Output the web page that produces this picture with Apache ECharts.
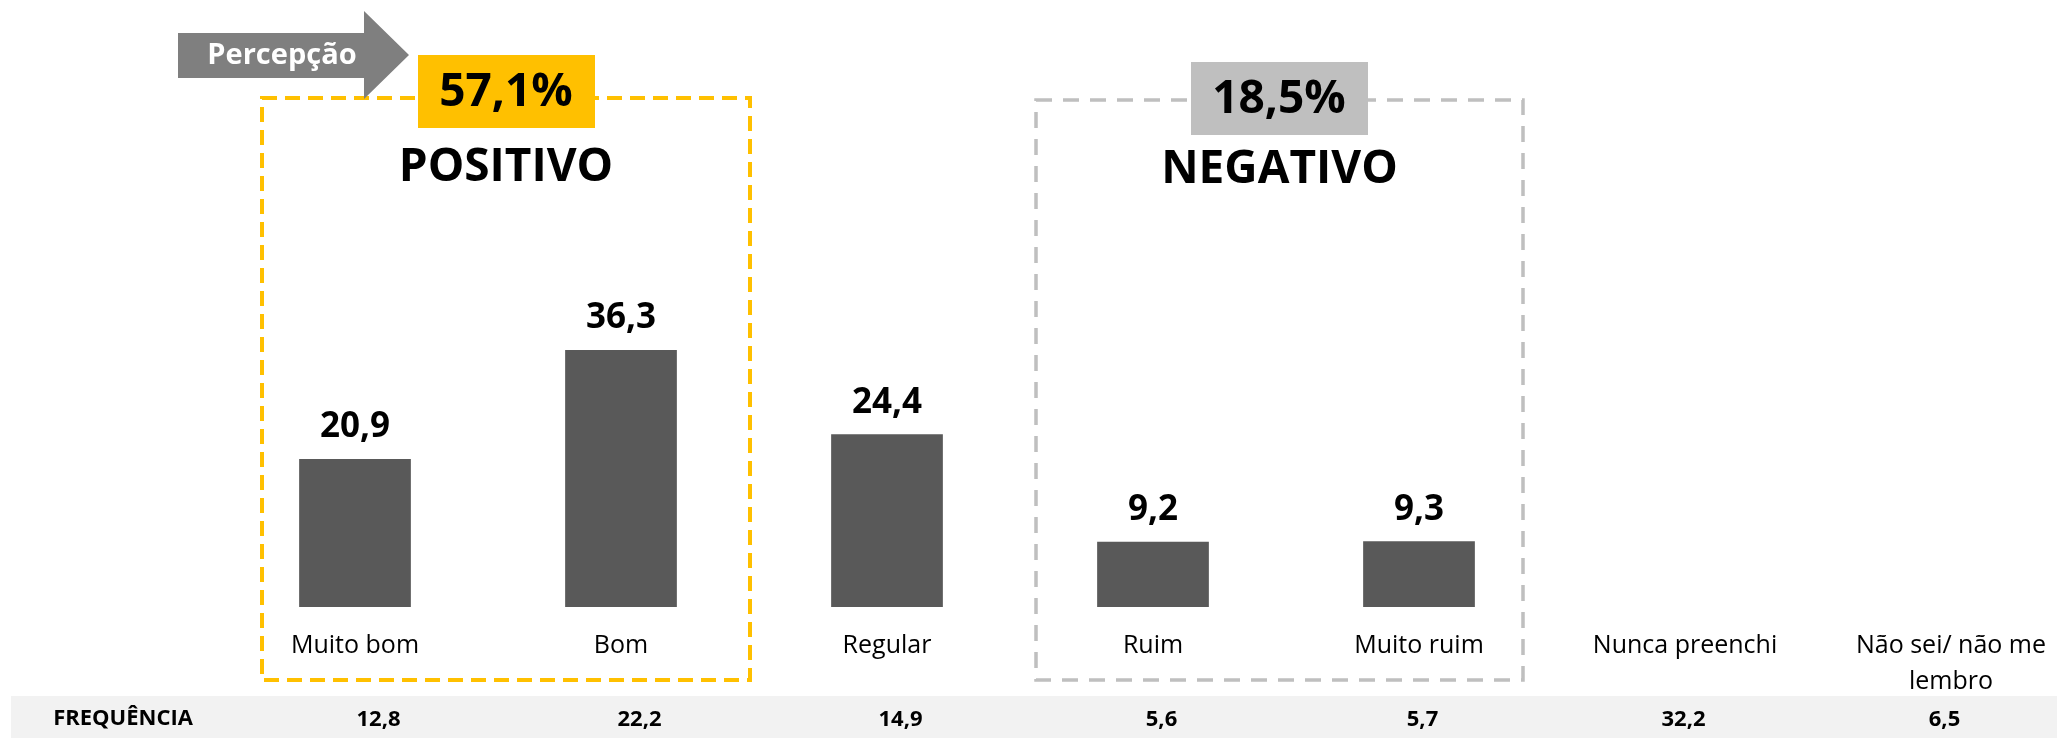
<!DOCTYPE html>
<html>
<head>
<meta charset="utf-8">
<script src="https://cdn.jsdelivr.net/npm/echarts@6/dist/echarts.min.js"></script>
<style>
  html, body { margin: 0; padding: 0; background: #fff; }
  #ec { width: 2057px; height: 738px; }
</style>
</head>
<body>
<div id="ec"></div>
<script>
// 类别
var categories = ['Muito bom', 'Bom', 'Regular', 'Ruim', 'Muito ruim', 'Nunca preenchi', 'Não sei/ não me\nlembro'];
// 百分比 (Nunca preenchi / Não sei 没有柱子)
var percents = [20.9, 36.3, 24.4, 9.2, 9.3, null, null];
// 频率行
var freqLabel = 'FREQUÊNCIA';
var freqValues = ['12,8', '22,2', '14,9', '5,6', '5,7', '32,2', '6,5'];
// 分组
var groupNames = ['POSITIVO', 'NEGATIVO'];
var groupTotals = ['57,1%', '18,5%'];
var arrowText = 'Percepção';

var FONT = '"Open Sans", "DejaVu Sans", sans-serif';

var ec = echarts.init(document.getElementById('ec'));

function fmt(v) {
  return v.toFixed(1).replace('.', ',');
}

// 虚线框 + 标题
function groupBox(x1, y1, x2, y2, color, lw, dash, boxX, boxY, total, name, nameY) {
  return [
    {
      type: 'rect',
      shape: { x: x1, y: y1, width: x2 - x1, height: y2 - y1 },
      style: { fill: null, stroke: color, lineWidth: lw, lineDash: dash },
      z: 1
    },
    {
      type: 'rect',
      shape: { x: boxX, y: boxY, width: 177, height: 73 },
      style: { fill: color },
      z: 2
    },
    {
      type: 'text',
      x: boxX + 88, y: boxY + 38,
      style: {
        text: total, fill: '#000', font: 'bold 46px ' + FONT,
        align: 'center', verticalAlign: 'middle'
      },
      z: 3
    },
    {
      type: 'text',
      x: (x1 + x2) / 2, y: nameY,
      style: {
        text: name, fill: '#000', font: 'bold 46px ' + FONT,
        align: 'center', verticalAlign: 'middle'
      },
      z: 3
    }
  ];
}

var graphics = [];
// 频率行背景
graphics.push({
  type: 'rect',
  shape: { x: 11, y: 696, width: 2046, height: 42 },
  style: { fill: '#f2f2f2' },
  z: -10
});
graphics.push({
  type: 'text',
  x: 123, y: 719,
  style: {
    text: freqLabel, fill: '#000', font: 'bold 22px ' + FONT,
    align: 'center', verticalAlign: 'middle'
  }
});
// 箭头
graphics.push({
  type: 'polygon',
  shape: { points: [[178, 33], [364, 33], [364, 11], [409, 55], [364, 99], [364, 78], [178, 78]] },
  style: { fill: '#7f7f7f' },
  z: 4
});
graphics.push({
  type: 'text',
  x: 282, y: 56,
  style: {
    text: arrowText, fill: '#fff', font: 'bold 29px ' + FONT,
    align: 'center', verticalAlign: 'middle'
  },
  z: 5
});
graphics = graphics.concat(groupBox(262, 98, 750, 680, '#ffc000', 4, [15, 8], 418, 55, groupTotals[0], groupNames[0], 168));
graphics = graphics.concat(groupBox(1036, 100, 1523, 680, '#bfbfbf', 3.5, [16, 11], 1191, 62, groupTotals[1], groupNames[1], 170));

var option = {
  animation: false,
  backgroundColor: '#fff',
  textStyle: { fontFamily: FONT },
  grid: [
    // 最后一列超出画布
    { left: 222, width: 1862, top: 253, height: 354, outerBoundsMode: 'none' },
    // 频率行
    { left: 248, width: 1827, top: 253, height: 354, outerBoundsMode: 'none' }
  ],
  xAxis: [
    {
      type: 'category',
      gridIndex: 0,
      data: categories,
      axisLine: { show: false },
      axisTick: { show: false },
      axisLabel: {
        interval: 0,
        margin: 21,
        fontSize: 25,
        lineHeight: 36,
        color: '#000',
        fontFamily: FONT
      }
    },
    {
      type: 'category',
      gridIndex: 1,
      data: freqValues,
      axisLine: { show: false },
      axisTick: { show: false },
      axisLabel: {
        interval: 0,
        margin: 98,
        fontSize: 22,
        lineHeight: 30,
        fontWeight: 'bold',
        color: '#000',
        fontFamily: FONT
      }
    }
  ],
  yAxis: [
    { type: 'value', gridIndex: 0, min: 0, max: 50, show: false, splitLine: { show: false } },
    { type: 'value', gridIndex: 1, min: 0, max: 50, show: false, splitLine: { show: false } }
  ],
  series: [
    {
      type: 'bar',
      xAxisIndex: 0,
      yAxisIndex: 0,
      data: percents,
      barWidth: '42%',
      itemStyle: { color: '#595959' },
      label: {
        show: true,
        position: 'top',
        distance: 14,
        color: '#000',
        fontSize: 35,
        fontWeight: 'bold',
        fontFamily: FONT,
        formatter: function(p) {
          return p.value == null ? '' : fmt(p.value);
        }
      }
    }
  ],
  graphic: graphics
};

ec.setOption(option);
</script>
</body>
</html>
